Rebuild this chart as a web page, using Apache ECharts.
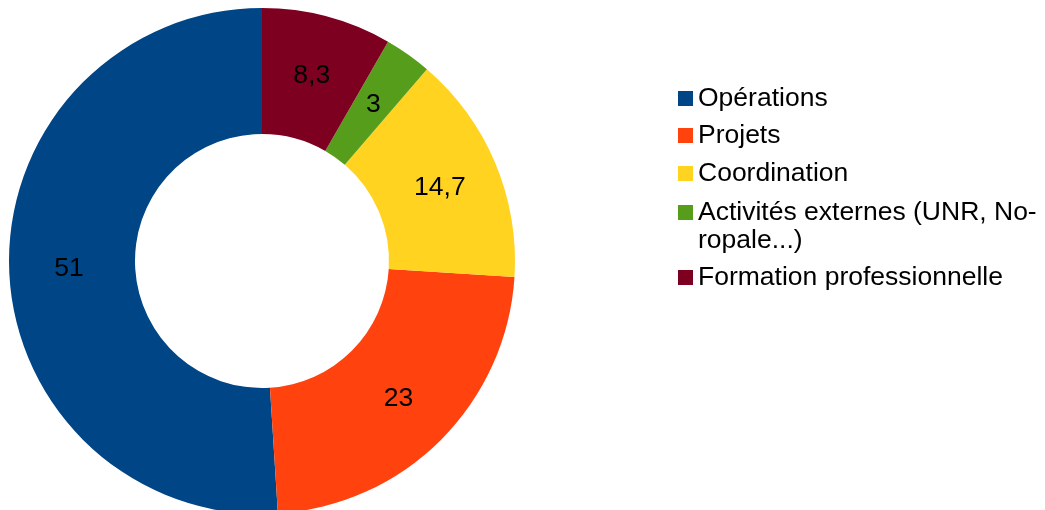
<!DOCTYPE html>
<html>
<head>
<meta charset="utf-8">
<script src="https://cdn.jsdelivr.net/npm/echarts@6/dist/echarts.min.js"></script>
<style>
  html, body { margin: 0; padding: 0; background: #ffffff; }
  #chart { width: 1045px; height: 510px; }
</style>
</head>
<body>
<div id="chart"></div>
<script>
// Share of time by activity (%)
const categories = [
  'Opérations',
  'Projets',
  'Coordination',
  'Activités externes (UNR, Noropale...)',
  'Formation professionnelle'
];
const values = [51, 23, 14.7, 3, 8.3];
const colors = ['#004586', '#ff420e', '#ffd320', '#579d1c', '#7e0021'];

// Legend text as wrapped in the key (long entry breaks over two lines)
const legendText = [
  'Opérations',
  'Projets',
  'Coordination',
  'Activités externes (UNR, No-\nropale...)',
  'Formation professionnelle'
];

const FONT = 'Liberation Sans, Arial, sans-serif';
const LINE = 28;
// Icon centre (y) of each legend row
const rowCentres = [98.5, 135.5, 173.5, 212.5, 277.5];

const chart = echarts.init(document.getElementById('chart'), null, { renderer: 'canvas' });

// One legend per row so each can be positioned on its own. A wrapped entry gets a
// blank leading line so the icon sits level with its first line of text.
const legends = categories.map((name, i) => {
  const nLines = legendText[i].split('\n').length;
  const shown = nLines > 1 ? '\n'.repeat(nLines - 1) + legendText[i] : legendText[i];
  const blockLines = nLines > 1 ? 2 * nLines - 1 : 1;
  return {
    show: true,
    orient: 'vertical',
    left: 678,
    top: rowCentres[i] - (blockLines * LINE) / 2,
    padding: 0,
    itemWidth: 15,
    itemHeight: 15,
    icon: 'rect',
    selectedMode: false,
    data: [name],
    formatter: () => shown,
    textStyle: {
      fontFamily: FONT,
      fontSize: 26.5,
      lineHeight: LINE,
      color: '#000000'
    }
  };
});

chart.setOption({
  animation: false,
  backgroundColor: '#ffffff',
  color: colors,
  legend: legends,
  series: [{
    type: 'pie',
    center: [262, 261],
    radius: [127, 253],
    startAngle: 90,
    clockwise: false,
    avoidLabelOverlap: false,
    label: {
      show: true,
      position: 'inside',
      offset: [0, 1.5],
      fontFamily: FONT,
      fontSize: 26.5,
      color: '#000000',
      formatter: p => String(p.value).replace('.', ',')
    },
    labelLine: { show: false },
    itemStyle: { borderWidth: 0 },
    emphasis: { disabled: true },
    data: categories.map((name, i) => ({ name: name, value: values[i] }))
  }]
});
</script>
</body>
</html>
